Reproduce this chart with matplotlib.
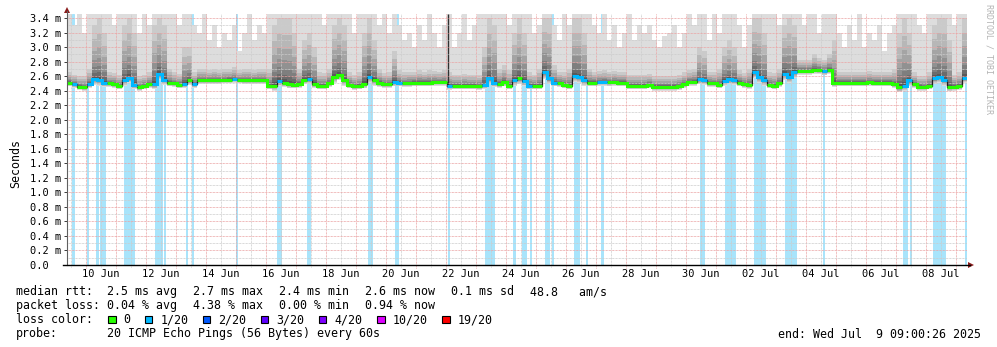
import numpy as np
import pandas as pd
import matplotlib
matplotlib.use("Agg")
import matplotlib.pyplot as plt
import matplotlib.dates as mdates
from matplotlib.patches import Rectangle, Polygon
from matplotlib.ticker import FixedLocator, FuncFormatter

# 4-hour consolidated samples, 30 days ending 2025-07-09 09:00
t_start = "2025-06-09 09:00"
step_hours = 4

rtt_median = [
    2.51, 2.49, 2.455, 2.445, 2.49, 2.56, 2.55, 2.50, 2.50, 2.49,
    2.465, 2.54, 2.58, 2.48, 2.445, 2.465, 2.49, 2.49, 2.63, 2.55,
    2.51, 2.50, 2.48, 2.49, 2.54, 2.49, 2.54, 2.54, 2.54, 2.54,
    2.54, 2.545, 2.55, 2.56, 2.545, 2.54, 2.54, 2.54, 2.54, 2.54,
    2.47, 2.47, 2.53, 2.51, 2.49, 2.48, 2.49, 2.55, 2.56, 2.49,
    2.47, 2.47, 2.50, 2.59, 2.62, 2.54, 2.48, 2.465, 2.47, 2.49,
    2.59, 2.54, 2.505, 2.49, 2.49, 2.52, 2.51, 2.50, 2.505, 2.51,
    2.51, 2.51, 2.51, 2.515, 2.515, 2.515, 2.47, 2.47, 2.47, 2.47,
    2.47, 2.47, 2.465, 2.48, 2.57, 2.51, 2.49, 2.52, 2.47, 2.54,
    2.57, 2.53, 2.47, 2.47, 2.47, 2.65, 2.57, 2.51, 2.50, 2.48,
    2.47, 2.60, 2.59, 2.54, 2.51, 2.51, 2.52, 2.52, 2.515, 2.52,
    2.51, 2.51, 2.47, 2.47, 2.47, 2.47, 2.48, 2.455, 2.455, 2.455,
    2.455, 2.455, 2.465, 2.49, 2.52, 2.52, 2.555, 2.54, 2.50, 2.50,
    2.48, 2.53, 2.555, 2.54, 2.51, 2.49, 2.48, 2.65, 2.59, 2.54,
    2.48, 2.47, 2.50, 2.63, 2.59, 2.655, 2.675, 2.675, 2.675, 2.69,
    2.685, 2.67, 2.685, 2.51, 2.51, 2.51, 2.51, 2.51, 2.51, 2.51,
    2.52, 2.51, 2.51, 2.51, 2.51, 2.49, 2.445, 2.465, 2.54, 2.49,
    2.455, 2.45, 2.47, 2.57, 2.59, 2.55, 2.445, 2.455, 2.465, 2.58,
]

# slowest ping of each sample (ms)
smoke_top = [
    3.46, 3.3, 3.46, 3.2, 3.46, 3.46, 3.46, 3.46, 3.46, 3.3,
    3.46, 3.46, 3.46, 3.46, 3.2, 3.46, 3.3, 3.46, 3.46, 3.46,
    3.46, 3.46, 3.3, 3.46, 3.46, 3.3, 3.2, 3.46, 3.1, 3.3,
    3.0, 3.2, 3.1, 3.3, 2.95, 3.2, 3.46, 3.1, 3.3, 3.2,
    3.46, 3.46, 3.46, 3.46, 3.46, 3.46, 3.46, 3.46, 3.46, 3.46,
    3.46, 3.3, 3.46, 3.46, 3.46, 3.46, 3.46, 3.2, 3.46, 3.46,
    3.46, 3.46, 3.3, 3.46, 3.2, 3.46, 3.3, 3.1, 3.2, 3.0,
    3.3, 3.1, 3.46, 3.2, 3.0, 3.3, 3.46, 3.0, 3.2, 3.46,
    3.1, 3.3, 3.46, 3.46, 3.46, 3.46, 3.46, 3.46, 3.3, 3.46,
    3.46, 3.46, 3.46, 3.2, 3.3, 3.46, 3.46, 3.3, 3.1, 3.46,
    3.3, 3.46, 3.46, 3.46, 3.46, 3.3, 3.2, 3.46, 3.1, 3.3,
    3.0, 3.2, 3.46, 3.1, 3.3, 3.2, 3.3, 3.1, 3.0, 3.15,
    3.2, 3.3, 3.0, 3.2, 3.46, 3.3, 3.46, 3.46, 3.1, 3.46,
    3.2, 3.46, 3.46, 3.46, 3.3, 3.0, 3.3, 3.46, 3.46, 3.46,
    3.46, 3.46, 3.3, 3.46, 3.46, 3.46, 3.46, 3.3, 3.46, 3.46,
    3.2, 3.46, 3.46, 3.46, 3.2, 3.0, 3.3, 3.1, 3.46, 3.0,
    3.2, 3.1, 3.3, 2.95, 3.2, 3.3, 3.46, 3.46, 3.46, 3.46,
    3.3, 3.2, 3.46, 3.46, 3.46, 3.46, 3.46, 3.3, 3.46, 3.46,
]

# second slowest ping (upper edge of the dense smoke)
smoke_hi = [
    2.65, 2.62, 2.60, 2.60, 2.70, 3.30, 3.40, 3.20, 2.65, 2.64,
    2.62, 3.30, 3.40, 3.20, 2.60, 2.62, 2.65, 3.30, 3.40, 3.30,
    2.70, 2.65, 2.63, 3.00, 3.00, 2.65, 2.70, 2.70, 2.68, 2.70,
    2.68, 2.70, 2.70, 2.72, 2.68, 2.70, 2.70, 2.68, 2.70, 2.70,
    2.70, 3.30, 3.40, 3.40, 3.40, 3.20, 2.70, 3.10, 3.20, 3.00,
    2.65, 2.64, 2.70, 3.30, 3.40, 3.30, 2.65, 2.62, 2.65, 3.20,
    3.40, 3.10, 2.70, 2.64, 2.65, 2.95, 2.68, 2.65, 2.66, 2.66,
    2.68, 2.66, 2.68, 2.67, 2.66, 2.68, 2.65, 2.62, 2.62, 2.63,
    2.62, 2.62, 2.62, 3.00, 3.40, 3.30, 2.70, 2.75, 2.68, 3.20,
    3.40, 3.20, 2.65, 2.62, 2.70, 3.40, 3.40, 2.75, 2.66, 2.65,
    2.70, 3.40, 3.40, 3.20, 2.70, 2.66, 2.67, 2.68, 2.66, 2.67,
    2.66, 2.66, 2.62, 2.62, 2.62, 2.62, 2.63, 2.60, 2.60, 2.60,
    2.60, 2.60, 2.62, 2.65, 2.68, 2.70, 3.00, 2.95, 2.66, 2.65,
    2.70, 3.00, 3.10, 3.00, 2.68, 2.64, 2.70, 3.40, 3.40, 3.20,
    2.65, 2.64, 2.70, 3.30, 3.40, 3.30, 2.82, 2.82, 2.82, 2.90,
    2.85, 2.82, 2.90, 3.10, 2.66, 2.65, 2.66, 2.66, 2.66, 2.66,
    2.67, 2.66, 2.66, 2.66, 2.66, 2.70, 3.20, 3.40, 3.20, 2.65,
    2.60, 2.60, 2.65, 3.30, 3.40, 3.40, 3.10, 2.62, 2.65, 3.40,
]

# fastest ping of each sample
smoke_lo = [
    2.46, 2.44, 2.41, 2.40, 2.44, 2.48, 2.47, 2.45, 2.45, 2.44,
    2.42, 2.47, 2.50, 2.42, 2.40, 2.42, 2.44, 2.42, 2.54, 2.48,
    2.46, 2.45, 2.43, 2.44, 2.48, 2.44, 2.49, 2.49, 2.49, 2.49,
    2.49, 2.50, 2.50, 2.51, 2.50, 2.49, 2.49, 2.49, 2.49, 2.49,
    2.42, 2.40, 2.46, 2.45, 2.43, 2.43, 2.44, 2.49, 2.49, 2.44,
    2.42, 2.42, 2.45, 2.51, 2.54, 2.47, 2.43, 2.41, 2.42, 2.43,
    2.51, 2.47, 2.45, 2.44, 2.44, 2.46, 2.46, 2.45, 2.45, 2.46,
    2.46, 2.46, 2.46, 2.47, 2.47, 2.47, 2.41, 2.42, 2.42, 2.42,
    2.42, 2.42, 2.41, 2.42, 2.49, 2.45, 2.44, 2.46, 2.42, 2.47,
    2.49, 2.46, 2.42, 2.42, 2.42, 2.56, 2.49, 2.46, 2.45, 2.43,
    2.42, 2.52, 2.51, 2.47, 2.46, 2.46, 2.47, 2.47, 2.46, 2.47,
    2.46, 2.46, 2.42, 2.42, 2.42, 2.42, 2.43, 2.40, 2.40, 2.40,
    2.40, 2.40, 2.41, 2.44, 2.47, 2.47, 2.49, 2.48, 2.45, 2.45,
    2.43, 2.47, 2.49, 2.48, 2.46, 2.44, 2.42, 2.57, 2.51, 2.47,
    2.43, 2.42, 2.45, 2.55, 2.51, 2.58, 2.62, 2.62, 2.62, 2.63,
    2.63, 2.61, 2.63, 2.45, 2.46, 2.46, 2.46, 2.46, 2.46, 2.46,
    2.47, 2.46, 2.46, 2.46, 2.46, 2.44, 2.38, 2.40, 2.46, 2.44,
    2.40, 2.40, 2.42, 2.49, 2.51, 2.47, 2.39, 2.40, 2.41, 2.50,
]

# packet loss periods (1 of 20 pings lost)
loss_start = [
    "2025-06-09 13:00", "2025-06-10 01:00", "2025-06-10 08:12", "2025-06-10 11:24",
    "2025-06-10 13:00", "2025-06-11 06:36", "2025-06-12 07:24", "2025-06-12 14:36",
    "2025-06-13 08:12", "2025-06-13 13:00", "2025-06-15 00:12", "2025-06-16 09:00",
    "2025-06-16 11:24", "2025-06-17 09:00", "2025-06-19 09:48", "2025-06-20 07:24",
    "2025-06-22 01:48", "2025-06-23 07:24", "2025-06-24 05:48", "2025-06-24 13:00",
    "2025-06-24 19:24", "2025-06-25 07:24", "2025-06-25 13:00", "2025-06-26 06:36",
    "2025-06-26 16:12", "2025-06-27 04:12", "2025-06-30 11:24", "2025-07-01 07:24",
    "2025-07-02 06:36", "2025-07-03 07:24", "2025-07-04 13:48", "2025-07-07 05:48",
    "2025-07-07 11:24", "2025-07-08 05:48", "2025-07-09 07:24",
]
loss_minutes = [96, 60, 96, 48, 144, 480, 336, 48, 48, 48, 48, 96, 48, 144, 192,
                144, 48, 432, 96, 192, 48, 192, 48, 240, 48, 96, 192, 480, 528,
                528, 48, 192, 48, 576, 96]
loss_count = [1] * len(loss_start)

# single column where every ping spread up to the top
spike_time = ["2025-06-22 01:48"]
spike_top = [3.46]

loss_labels = ["0", "1/20", "2/20", "3/20", "4/20", "10/20", "19/20"]
loss_counts = [0, 1, 2, 3, 4, 10, 19]
loss_colors = ["#26ff00", "#00b8ff", "#0059ff", "#5e00ff", "#7e00ff", "#dd00ff", "#ff0000"]

rtt_stats = ["2.5 ms avg", "2.7 ms max", "2.4 ms min", "2.6 ms now", "0.1 ms sd", "48.8   am/s"]
loss_stats = ["0.04 % avg", "4.38 % max", "0.00 % min", "0.94 % now"]
probe_text = "20 ICMP Echo Pings (56 Bytes) every 60s"
end_text = "end: Wed Jul  9 09:00:26 2025"

# ---------------------------------------------------------------- layout
W, H = 997, 347
X0, X1, YB, YT = 67, 967, 265, 14
PX_PER_MS = (YB - 18) / 3.4
MONO = "DejaVu Sans Mono"

fig = plt.figure(figsize=(W / 100, H / 100), dpi=100)
fig.patch.set_facecolor("white")
ax = fig.add_axes([X0 / W, 1 - YB / H, (X1 - X0) / W, (YB - YT) / H])
ax.set_facecolor("white")
for s in ax.spines.values():
    s.set_visible(False)


def fx(x):
    return x / W


def fy(y):
    return 1 - y / H


n = len(rtt_median)
t0 = pd.Timestamp(t_start)
edges = mdates.date2num((t0 + pd.to_timedelta(np.arange(n + 1) * step_hours, unit="h")).to_pydatetime())
ax.set_xlim(edges[0], edges[-1])
ax.set_ylim(0, (YB - YT) / PX_PER_MS)

med = np.array(rtt_median)
top = np.array(smoke_top)
hi = np.array(smoke_hi)
lo = np.array(smoke_lo)


def ext(a):
    return np.append(a, a[-1])


# loss background bars
loss_bg = "#a8e4fb"
ls_num = mdates.date2num(pd.to_datetime(loss_start).to_pydatetime())
le_num = ls_num + np.array(loss_minutes) / 1440.0
for a, b in zip(ls_num, le_num):
    ax.axvspan(a, b, color=loss_bg, lw=0.7, zorder=1)

# smoke: 10 nested bands, lightest outside
for k in range(1, 11):
    j = k - 1
    if j == 0:
        upper = top
    else:
        upper = med + (hi - med) * ((9.5 - j) / 8.5) ** 2.4
    lower = med - (med - lo) * ((9.5 - j) / 9.5) ** 1.7
    g = int(190 / 10 * (10 - k)) + 50
    col = "#%02x%02x%02x" % (g, g, g)
    ax.fill_between(edges, ext(lower), ext(upper), step="post", color=col,
                    lw=0, zorder=2, antialiased=False)

st = mdates.date2num(pd.to_datetime(spike_time).to_pydatetime())
for t, v in zip(st, spike_top):
    i = int(np.searchsorted(edges, t) - 1)
    ax.vlines(t, med[i], v, color="#303030", lw=1.0, zorder=2.5)

# grid: red every day / 0.2 ms, grey at noon / odd 0.1 ms
day_lines = mdates.date2num(pd.date_range("2025-06-10", "2025-07-09", freq="D").to_pydatetime())
noon_lines = mdates.date2num(pd.date_range("2025-06-09 12:00", "2025-07-08 12:00", freq="D").to_pydatetime())
dots = (0, (0.72, 0.72))
minor_col = (0.80, 0.80, 0.80)
major_col = (0.92, 0.64, 0.64)
for q in noon_lines:
    ax.axvline(q, ymin=-2 / (YB - YT), ymax=1, color=minor_col, lw=0.72, ls=dots,
               zorder=3, clip_on=False)
for d in day_lines:
    ax.axvline(d, ymin=-3 / (YB - YT), ymax=1, color=major_col, lw=0.72, ls=dots,
               zorder=3, clip_on=False)
for v in np.arange(0.1, 3.45, 0.2):
    ax.axhline(v, color=minor_col, lw=0.72, ls=dots, zorder=3)
for v in np.arange(0.2, 3.45, 0.2):
    ax.axhline(v, color=major_col, lw=0.72, ls=dots, zorder=3)

# median line, coloured by loss
sample_loss = np.zeros(n, dtype=int)
for a, b, c in zip(ls_num, le_num, loss_count):
    for i in range(n):
        if a < edges[i + 1] and b > edges[i]:
            sample_loss[i] = max(sample_loss[i], c)

ax.step(edges, ext(med), where="post", color="#202020", lw=0.9, zorder=5)
for cnt, col in zip(loss_counts, loss_colors):
    vals = np.where(sample_loss == cnt, med, np.nan)
    if np.all(np.isnan(vals)):
        continue
    ax.step(edges, ext(vals), where="post", color=col, lw=2.2, zorder=6,
            solid_capstyle="butt", solid_joinstyle="miter")

# axes ticks
yt = np.round(np.arange(0, 3.45, 0.2), 1)
ax.yaxis.set_major_locator(FixedLocator(yt))
ax.yaxis.set_major_formatter(FuncFormatter(lambda v, p: f"{v:.1f} m" if v > 0.05 else "0.0  "))
ax.tick_params(axis="y", length=2.5, width=0.72, color="#404040", pad=2.0,
               labelsize=7.5, labelfontfamily=MONO)
xt = mdates.date2num(pd.date_range("2025-06-10 12:00", "2025-07-08 12:00", freq="2D").to_pydatetime())
ax.xaxis.set_major_locator(FixedLocator(xt))
ax.xaxis.set_major_formatter(mdates.DateFormatter("%d %b"))
ax.tick_params(axis="x", length=0, pad=3.0, labelsize=7.5, labelfontfamily=MONO)

# axis lines and arrows
arrow_col = "#8b1c1c"
fig.add_artist(plt.Line2D([fx(X0), fx(X0)], [fy(YB), fy(11)], color="#606060", lw=0.8))
fig.add_artist(plt.Line2D([fx(63), fx(970)], [fy(YB), fy(YB)], color="black", lw=1.0))
fig.add_artist(Polygon([(fx(X0 - 3), fy(13)), (fx(X0 + 3), fy(13)), (fx(X0), fy(7))],
                       closed=True, color=arrow_col, lw=0))
fig.add_artist(Polygon([(fx(968), fy(YB - 3)), (fx(968), fy(YB + 3)), (fx(974), fy(YB))],
                       closed=True, color=arrow_col, lw=0))

fig.text(fx(15.5), fy(139), "Seconds", rotation=90, ha="right", va="center",
         family=MONO, fontsize=8.4, rotation_mode="anchor")
fig.text(fx(984), fy(4), "RRDTOOL / TOBI OETIKER", rotation=-90, ha="left", va="top",
         family=MONO, fontsize=6.0, color="#b4b4b4")

# legend block
CW = 7.03
rows = [295.2, 309.3, 323.4, 337.5]
col_x = [107, 193, 279, 365, 451, 530]


def put(x, y, s, **kw):
    fig.text(fx(x), fy(y), s, ha="left", va="baseline", family=MONO, fontsize=8.4, **kw)


put(16, rows[0], "median rtt:")
for x, s in zip(col_x, rtt_stats):
    put(x, rows[0], s)
put(16, rows[1], "packet loss:")
for x, s in zip(col_x, loss_stats):
    put(x, rows[1], s)
put(16, rows[2], "loss color:")
bx = 108.3
for lab, col in zip(loss_labels, loss_colors):
    fig.add_artist(Rectangle((fx(bx), fy(323.2)), 7.2 / W, 7.6 / H, transform=fig.transFigure,
                             facecolor=col, edgecolor="black", lw=0.8))
    put(bx + 15, rows[2], lab)
    bx = bx + 15 + len(lab) * CW + 14.9
put(16, rows[3], "probe:")
put(107, rows[3], probe_text)
put(778.3, rows[3], end_text)

fig.savefig("out.png", dpi=100)
